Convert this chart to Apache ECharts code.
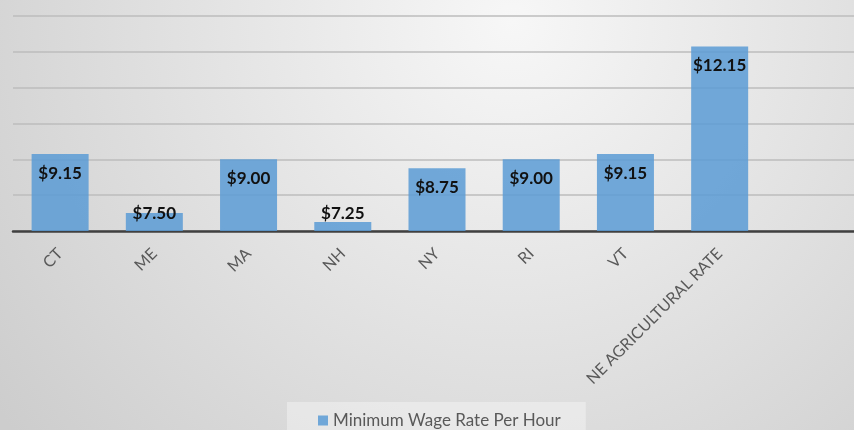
<!DOCTYPE html>
<html>
<head>
<meta charset="utf-8">
<script src="https://cdn.jsdelivr.net/npm/echarts@6/dist/echarts.min.js"></script>
<style>
html,body{margin:0;padding:0;}
#chart{width:854px;height:430px;}
</style>
</head>
<body>
<div id="chart"></div>
<script>
const categories = ['CT', 'ME', 'MA', 'NH', 'NY', 'RI', 'VT', 'NE AGRICULTURAL RATE', ''];
const wageRates = [9.15, 7.50, 9.00, 7.25, 8.75, 9.00, 9.15, 12.15, null];
const seriesName = 'Minimum Wage Rate Per Hour';
const yMin = 7, yMax = 13, yStep = 1;

const barData = wageRates.map(function (v) {
  if (v === null) return null;
  const short = (v - yMin) < 0.8;
  return {
    value: v,
    label: short ? { position: 'insideBottom', distance: 9 } : { position: 'insideTop', distance: 11 }
  };
});

const chart = echarts.init(document.getElementById('chart'));
chart.setOption({
  backgroundColor: {
    type: 'radial', x: 0.6, y: 0.05, r: 1.5,
    colorStops: [
      { offset: 0, color: '#f7f7f7' },
      { offset: 1, color: '#cdcdcd' }
    ]
  },
  animation: false,
  grid: { left: 13, top: 16, width: 848, height: 215, outerBoundsMode: 'none', containLabel: false },
  legend: {
    data: [seriesName],
    bottom: -9,
    left: 287,
    icon: 'rect',
    itemWidth: 10,
    itemHeight: 10,
    itemGap: 4,
    padding: [10, 25, 10, 31],
    backgroundColor: 'rgba(255,255,255,0.35)',
    textStyle: { color: '#595959', fontSize: 17, fontFamily: 'Lato' }
  },
  xAxis: {
    type: 'category',
    data: categories,
    axisTick: { show: false },
    axisLine: { lineStyle: { color: '#404040', width: 2.5 } },
    axisLabel: { rotate: 45, margin: 20, color: '#595959', fontSize: 16, fontFamily: 'Lato', interval: 0 }
  },
  yAxis: {
    type: 'value',
    min: yMin, max: yMax, interval: yStep,
    axisLabel: { show: false },
    axisLine: { show: false },
    axisTick: { show: false },
    splitLine: { lineStyle: { color: '#bcbcbc', width: 1.5 } }
  },
  series: [{
    name: seriesName,
    type: 'bar',
    data: barData,
    barWidth: 57,
    itemStyle: { color: 'rgba(91,155,213,0.85)' },
    label: {
      show: true,
      color: '#111',
      fontWeight: 'bold',
      fontSize: 17,
      fontFamily: 'Lato',
      formatter: function (p) { return '$' + p.value.toFixed(2); }
    }
  }]
});
</script>
</body>
</html>
